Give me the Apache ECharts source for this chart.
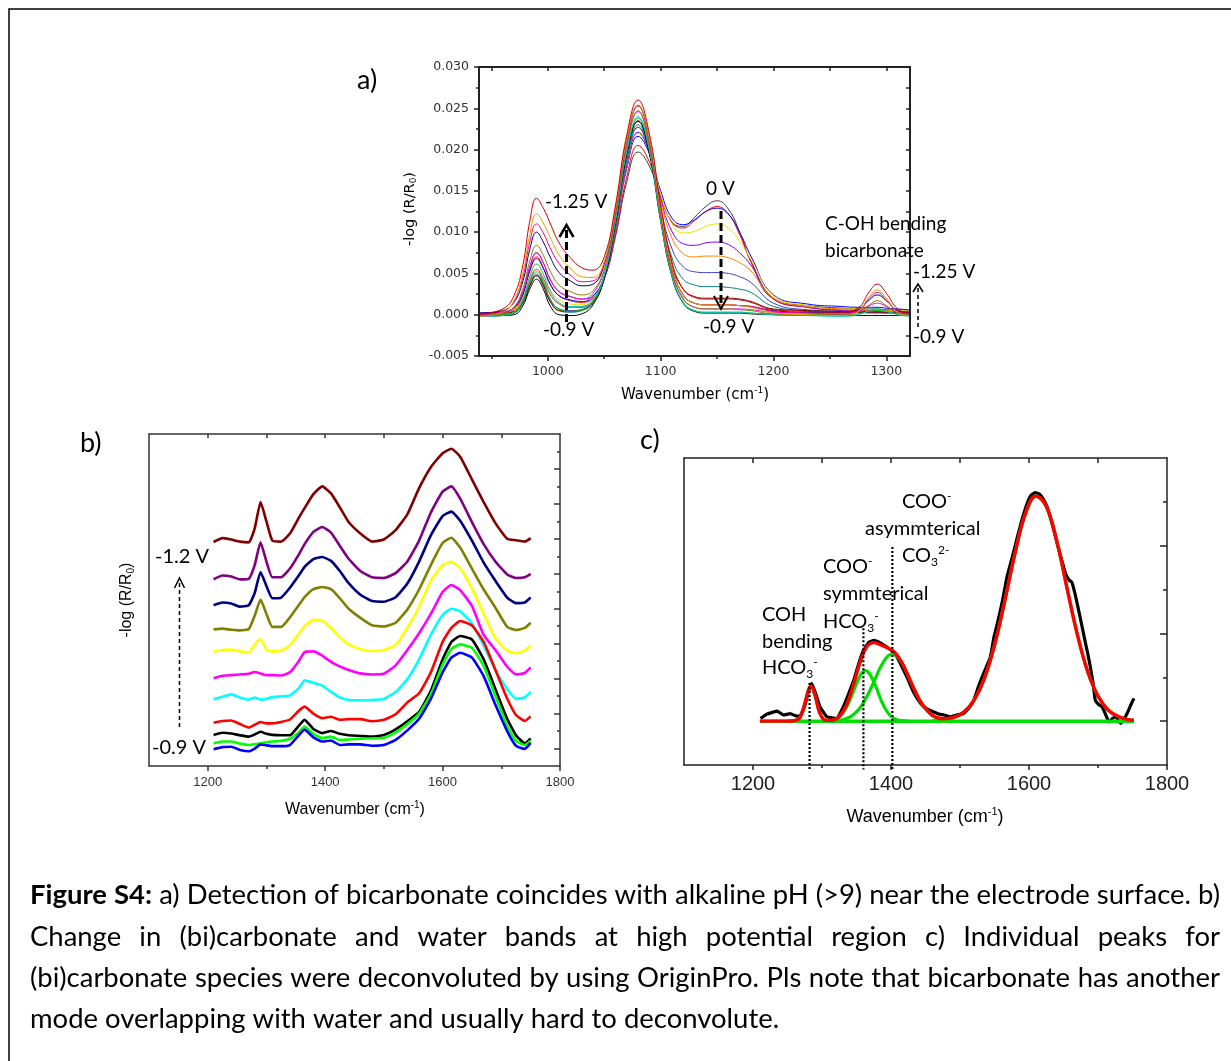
<!DOCTYPE html>
<html><head><meta charset="utf-8">
<script src="https://cdn.jsdelivr.net/npm/echarts@6/dist/echarts.min.js"></script>
<style>html,body{margin:0;padding:0;background:#fff}#c{width:1231px;height:1061px}</style>
</head><body><div id="c"></div>
<script>
// ---------------- Panel a: spectra 0 V ... -0.9 V ... -1.25 V (values in units of 1e-4) -------------
const aWave = [940,960,970,978,984,990,996,1002,1010,1020,1030,1040,1050,1060,1070,1080,1090,1100,1110,1120,1130,1140,1150,1160,1170,1180,1200,1230,1260,1275,1285,1292,1300,1310,1320];
const A_UNIT = 1e-4;
const a00 = [1,3,9,28,58,75,63,43,28,22,19,23,44,95,161,197,180,142,112,107,118,131,138,128,100,64,19,11,8,7,7,7,6,6,5];
const a01 = [-1,1,6,24,53,70,57,38,23,17,15,20,43,97,167,205,185,144,112,105,114,125,131,122,97,65,19,9,6,5,5,5,5,4,3];
const a02 = [2,3,8,25,53,68,56,37,23,18,16,22,47,104,177,216,195,150,117,109,115,125,129,122,100,71,24,13,10,9,9,9,8,7,6];
const a03 = [0,1,5,21,47,62,50,31,18,13,12,19,45,104,180,220,197,146,110,99,101,107,110,105,89,67,23,11,7,7,6,6,5,5,4];
const a04 = [-2,-1,3,17,41,55,44,25,13,9,9,16,43,104,181,221,196,140,101,86,84,87,88,85,75,60,20,9,5,4,4,4,3,2,2];
const a05 = [1,2,5,19,42,55,43,25,13,9,10,17,46,108,186,227,198,137,93,74,70,71,71,69,63,53,20,10,7,6,6,6,5,4,4];
const a06 = [-1,0,2,15,37,49,38,19,7,5,6,14,44,107,187,227,196,129,80,58,52,51,51,50,46,39,14,6,4,3,3,3,2,2,1];
const a07 = [0,0,2,14,35,47,36,17,5,3,5,14,45,110,190,230,196,124,69,43,36,34,34,33,31,27,10,5,3,3,2,2,2,2,2];
const a08 = [2,2,4,15,35,47,35,16,5,4,6,15,47,113,195,235,198,121,60,31,22,20,20,20,19,16,7,5,4,3,3,3,3,3,3];
const a09 = [-1,-1,0,11,31,43,31,11,0,-1,1,12,44,112,195,234,195,113,46,14,4,2,2,2,2,1,0,-1,-1,-1,-1,-1,-1,-1,-1];
const a10 = [0,0,3,16,39,52,40,19,7,4,6,15,47,115,198,238,199,116,48,15,5,3,3,3,3,2,1,0,0,1,4,5,4,1,0];
const a11 = [-2,-1,3,20,46,61,49,29,15,10,10,18,48,115,199,240,200,116,48,15,5,3,3,3,3,2,0,-1,-2,0,5,7,4,0,-2];
const a12 = [1,3,9,28,58,75,63,43,28,22,19,26,54,121,205,246,205,121,52,19,9,7,7,7,7,6,3,2,2,4,11,14,10,3,1];
const a13 = [-1,1,9,32,65,84,72,53,36,28,24,29,55,121,206,247,206,121,52,20,9,7,7,7,6,5,1,0,0,3,12,17,11,2,-1];
const a14 = [2,5,15,41,79,100,88,70,51,41,35,37,61,127,212,253,212,127,58,24,14,12,12,12,11,10,5,3,3,6,18,24,17,5,3];
const a15 = [0,4,16,46,88,110,99,81,62,48,40,41,63,127,212,253,212,126,57,24,14,12,12,12,11,10,4,2,1,5,20,27,18,4,1];
const a16 = [-2,3,17,51,97,122,111,94,72,56,46,45,64,128,213,254,213,127,58,24,14,12,12,12,11,9,2,0,-1,4,22,30,20,3,-1];
const a17 = [1,7,23,61,113,141,129,111,87,69,57,54,70,133,218,260,219,133,64,31,21,19,19,19,18,15,6,4,3,8,28,37,26,7,2];
const aColors = ['#404040','#ff0000','#0000ff','#e6e600','#8000ff','#ff8000','#4040c0','#008080','#800000','#000000','#00c000','#00c8c8','#ff00ff','#808000','#000080','#ff0080','#e0a000','#d00000'];
const aXMajor = [1000,1100,1200,1300];
const aXMinor = [950,1050,1150,1250];
const aXTop = [950,1000,1050,1100,1150,1200,1250,1300];

// ---------------- Panel b: stacked spectra (offset units, arbitrary) ----------------
const bWave = [1210,1225,1240,1255,1270,1280,1290,1300,1310,1325,1340,1355,1365,1380,1395,1410,1425,1440,1460,1480,1500,1520,1540,1560,1580,1600,1615,1630,1650,1670,1690,1710,1725,1740,1750];
const bWine    = [64.1,65.2,64.8,64.2,64.0,68.0,75.5,70.0,64.5,64.2,66.5,71.0,73.8,77.8,80.0,78.0,74.0,69.8,66.5,64.2,64.8,67.5,72.0,79.5,85.5,89.5,90.8,88.5,82.0,75.5,69.5,65.0,64.6,64.2,65.2];
const bPurple  = [53.4,54.5,54.2,53.4,53.6,57.5,64.0,58.5,54.0,54.0,56.5,60.5,63.5,67.0,68.4,66.8,63.0,59.3,55.8,54.0,53.8,55.2,58.5,64.5,72.5,78.5,80.0,76.5,69.8,63.5,58.5,54.8,53.8,54.0,55.0];
const bNavy    = [46.0,46.8,46.5,45.6,46.0,49.5,55.5,51.5,48.0,48.2,51.0,54.5,57.0,59.2,59.8,58.7,55.8,52.3,49.0,47.2,47.0,48.3,52.2,58.5,66.0,71.5,72.8,70.2,64.5,58.2,53.0,48.2,46.6,46.8,48.2];
const bOlive   = [39.1,39.3,39.0,38.8,39.2,43.0,47.6,43.5,39.8,39.8,42.5,46.0,48.3,50.6,51.2,50.6,48.0,45.0,42.4,40.3,39.9,41.0,44.8,50.5,57.5,63.8,65.3,62.5,56.5,50.5,45.3,39.8,38.9,39.5,41.0];
const bYellow  = [32.7,33.2,33.3,32.8,32.5,34.8,36.3,33.3,32.8,33.0,34.5,37.8,40.0,41.8,41.6,39.4,36.8,34.8,33.4,32.9,33.2,34.6,39.5,45.5,53.0,57.5,58.4,56.6,50.8,43.5,36.5,33.0,32.3,33.0,34.5];
const bMagenta = [25.1,25.8,26.0,26.2,26.4,26.9,26.5,26.0,26.0,25.9,26.8,30.0,32.6,32.8,31.6,29.8,28.5,27.5,26.5,26.2,26.4,28.8,33.2,38.0,43.5,49.8,51.8,50.3,45.8,37.5,33.2,28.4,26.2,26.6,28.2];
const bCyan    = [19.1,19.8,20.5,19.6,19.0,19.6,19.0,19.2,19.7,19.9,20.2,22.2,24.5,23.8,23.0,21.2,19.6,18.9,18.8,18.9,19.2,21.2,24.8,30.5,37.5,43.2,45.0,44.3,40.8,34.5,27.5,22.0,19.2,19.6,21.2];
const bRed     = [12.4,12.9,13.0,12.0,11.0,11.8,12.6,12.2,12.2,12.6,13.3,15.8,17.0,15.0,13.7,14.1,13.2,13.4,13.4,12.8,13.2,14.8,18.2,20.8,26.8,35.5,39.5,41.5,40.2,35.5,27.5,19.3,14.6,12.9,14.2];
const bBlack   = [8.9,9.5,9.3,8.8,8.4,9.0,9.8,9.2,8.9,8.8,8.8,11.5,13.2,10.6,9.4,10.0,9.2,8.8,8.6,8.4,8.9,10.5,12.8,15.5,21.5,30.5,35.5,37.2,36.2,30.5,22.0,13.5,8.8,6.5,7.9];
const bGreen   = [6.5,7.0,7.0,6.4,6.0,6.2,6.5,6.8,7.0,7.2,7.8,9.6,11.3,9.2,8.0,8.4,7.4,7.6,7.8,7.9,8.1,9.6,12.0,15.0,20.5,29.0,33.5,34.8,33.8,28.6,20.0,11.5,7.2,6.0,7.2];
const bBlue    = [4.8,5.4,5.5,4.6,4.2,5.0,6.2,5.9,5.7,5.7,6.0,8.8,10.4,8.2,7.0,7.3,6.0,6.2,6.2,5.8,6.0,7.5,10.2,13.5,19.2,26.8,31.0,32.4,31.0,25.7,17.5,10.0,5.8,4.9,6.6];
const bColors  = ['#800000','#800080','#000080','#808000','#ffff00','#ff00ff','#00ffff','#ff0000','#000000','#00ff00','#0000ff'];
const bXLabels = [1200,1400,1600,1800];
const bXMinor = [1300,1500,1700];
const bXTop = [1200,1300,1400,1500,1600,1700];
const bYMajor = [5,15,25,35,45,55,65,75,85];
const bYMinor = [10,20,30,40,50,60,70,80,90];

// ---------------- Panel c: deconvolution ----------------
const cExpWave = [1211,1220,1228,1235,1244,1254,1262,1268,1275,1280,1285,1291,1297,1307,1321,1331,1338,1346,1353,1360,1368,1375,1385,1394,1400,1406,1414,1423,1433,1443,1452,1462,1470,1477,1486,1495,1505,1513,1520,1527,1534,1544,1549,1554,1561,1568,1576,1583,1590,1597,1603,1609,1615,1621,1626,1631,1636,1641,1647,1653,1658,1662,1666,1670,1675,1680,1685,1689,1693,1696,1701,1706,1711,1716,1721,1726,1730,1733,1738,1742,1747,1752];
const cExp = [0.06,0.16,0.20,0.23,0.14,0.17,0.12,0.11,0.35,0.65,0.86,0.62,0.33,0.10,0.06,0.33,0.60,0.93,1.30,1.61,1.80,1.84,1.78,1.69,1.62,1.54,1.30,1.01,0.65,0.40,0.28,0.21,0.16,0.14,0.10,0.14,0.17,0.30,0.48,0.80,1.08,1.46,1.90,2.22,2.70,3.28,3.75,4.19,4.60,4.95,5.15,5.21,5.18,5.06,4.90,4.64,4.35,4.04,3.70,3.36,3.22,3.17,2.95,2.67,2.30,1.92,1.55,1.23,0.85,0.48,0.38,0.33,0.15,-0.02,0.06,0.10,0.00,-0.05,0.05,0.17,0.35,0.52];
const cFitWave = [1210,1230,1250,1260,1268,1275,1280,1284,1290,1297,1305,1315,1325,1335,1345,1355,1365,1375,1385,1395,1405,1415,1425,1435,1445,1460,1475,1490,1505,1520,1535,1550,1565,1580,1595,1610,1625,1640,1655,1670,1685,1700,1715,1730,1745,1752];
const cFit = [0,0,0,0.01,0.08,0.39,0.69,0.80,0.58,0.18,0.02,0.02,0.11,0.35,0.80,1.33,1.70,1.79,1.74,1.67,1.57,1.36,1.03,0.68,0.39,0.13,0.055,0.08,0.20,0.47,0.96,1.73,2.75,3.84,4.74,5.13,4.90,4.12,3.04,1.98,1.13,0.57,0.25,0.10,0.03,0.02];
const cG1Wave = [1250,1260,1268,1275,1280,1284,1290,1297,1305,1315];
const cG1 = [0,0.01,0.08,0.39,0.69,0.80,0.58,0.18,0.02,0];
const cG2Wave = [1300,1315,1325,1335,1345,1355,1363,1375,1385,1395,1405,1415,1425];
const cG2 = [0,0.02,0.09,0.30,0.66,1.03,1.15,0.90,0.50,0.20,0.05,0.01,0];
const cG3Wave = [1320,1330,1340,1345,1355,1365,1375,1385,1395,1402,1405,1415,1425,1435,1445,1460,1475,1490];
const cG3 = [0.01,0.03,0.09,0.14,0.30,0.56,0.89,1.24,1.48,1.53,1.52,1.35,1.03,0.68,0.39,0.13,0.03,0];
const cG4Wave = [1460,1475,1490,1505,1520,1535,1550,1565,1580,1595,1610,1625,1640,1655,1670,1685,1700,1715,1730,1745,1752];
const cG4 = [0.01,0.03,0.08,0.20,0.47,0.96,1.73,2.75,3.84,4.74,5.13,4.90,4.12,3.04,1.98,1.13,0.57,0.25,0.10,0.03,0.02];
const cBaseWave = [1210,1752];
const cBase = [0,0];
const cXLabels = [1200,1400,1600,1800];
const cXMinor = [1300,1500,1700];
const cXTop = [1200,1300,1400,1500,1600,1700];
const cYMajor = [0,2,4];
const cYMinor = [1,3,5];
const cDotX = [1282,1360,1402];
const cDotTop = [0.87,2.12,3.97];
const cDotBottom = -1.1;

// ---------------- Caption ----------------
const capLines = [
  'Figure S4: a) Detection of bicarbonate coincides with alkaline pH (>9) near the electrode surface. b)',
  'Change in (bi)carbonate and water bands at high potential region c) Individual peaks for',
  '(bi)carbonate species were deconvoluted by using OriginPro. Pls note that bicarbonate has another',
  'mode overlapping with water and usually hard to deconvolute.'
];

// =====================================================================
const chart = echarts.init(document.getElementById('c'), null, {renderer:'canvas', width:1231, height:1061});
const pairs = (xs, ys, k) => xs.map((x, i) => [x, ys[i] * (k || 1)]);
const plain = v => String(v);

const lineA = {show:true, onZero:false, lineStyle:{color:'#222', width:2}};
const lineB = {show:true, onZero:false, lineStyle:{color:'#333', width:1.5}};
const lineC = {show:true, onZero:false, lineStyle:{color:'#222', width:1.5}};
const noLine = {show:false, onZero:false};
const tk = (len, inside, vals, col) => ({show:true, inside:inside, length:len, customValues:vals, lineStyle:{color:col||'#222', width:1.5}});
const none = {show:false};
const ns = {show:false};

const xAxis = [
  // a
  {gridIndex:0, type:'value', min:939, max:1321, position:'bottom', axisLine:lineA, axisTick:tk(5,false,aXMajor),
   axisLabel:{show:true, customValues:aXMajor, formatter:plain, margin:9, fontFamily:'DejaVu Sans', fontSize:12.5, color:'#333'}, splitLine:ns},
  {gridIndex:0, type:'value', min:939, max:1321, position:'bottom', axisLine:noLine, axisTick:tk(3,false,aXMinor), axisLabel:none, splitLine:ns},
  {gridIndex:0, type:'value', min:939, max:1321, position:'top', axisLine:lineA, axisTick:tk(4,true,aXTop), axisLabel:none, splitLine:ns},
  // b
  {gridIndex:1, type:'value', min:1100, max:1800, position:'bottom', axisLine:lineB, axisTick:tk(5,false,bXLabels,'#333'),
   axisLabel:{show:true, customValues:bXLabels, formatter:plain, margin:10, fontFamily:'Liberation Sans', fontSize:13, color:'#333'}, splitLine:ns},
  {gridIndex:1, type:'value', min:1100, max:1800, position:'bottom', axisLine:noLine, axisTick:tk(3,false,bXMinor,'#333'), axisLabel:none, splitLine:ns},
  {gridIndex:1, type:'value', min:1100, max:1800, position:'top', axisLine:lineB, axisTick:tk(4,true,bXTop,'#333'), axisLabel:none, splitLine:ns},
  // c
  {gridIndex:2, type:'value', min:1100, max:1800, position:'bottom', axisLine:lineC, axisTick:tk(5,false,cXLabels),
   axisLabel:{show:true, customValues:cXLabels, formatter:plain, margin:9, fontFamily:'Liberation Sans', fontSize:20, color:'#222'}, splitLine:ns},
  {gridIndex:2, type:'value', min:1100, max:1800, position:'bottom', axisLine:noLine, axisTick:tk(3,false,cXMinor), axisLabel:none, splitLine:ns},
  {gridIndex:2, type:'value', min:1100, max:1800, position:'top', axisLine:lineC, axisTick:tk(5,true,cXTop), axisLabel:none, splitLine:ns}
];
const yAxis = [
  // a
  {gridIndex:0, type:'value', min:-0.005, max:0.03, interval:0.005, position:'left', axisLine:lineA,
   axisTick:{show:true, inside:false, length:5, lineStyle:{color:'#222', width:1.5}},
   minorTick:{show:true, splitNumber:2, length:3, lineStyle:{color:'#222', width:1.5}},
   axisLabel:{show:true, margin:10, fontFamily:'DejaVu Sans', fontSize:12.5, color:'#333', formatter:v => v.toFixed(3)}, splitLine:ns},
  {gridIndex:0, type:'value', min:-0.005, max:0.03, interval:0.0025, position:'right', axisLine:lineA,
   axisTick:{show:true, inside:true, length:4, lineStyle:{color:'#222', width:1.5}}, axisLabel:none, splitLine:ns},
  // b
  {gridIndex:1, type:'value', min:0, max:95, position:'left', axisLine:lineB, axisTick:none, axisLabel:none, splitLine:ns},
  {gridIndex:1, type:'value', min:0, max:95, position:'right', axisLine:lineB, axisTick:tk(6,true,bYMajor,'#333'), axisLabel:none, splitLine:ns},
  {gridIndex:1, type:'value', min:0, max:95, position:'right', axisLine:noLine, axisTick:tk(3,true,bYMinor,'#333'), axisLabel:none, splitLine:ns},
  // c
  {gridIndex:2, type:'value', min:-1, max:6, position:'left', axisLine:lineC, axisTick:none, axisLabel:none, splitLine:ns},
  {gridIndex:2, type:'value', min:-1, max:6, position:'right', axisLine:lineC, axisTick:tk(7,true,cYMajor), axisLabel:none, splitLine:ns},
  {gridIndex:2, type:'value', min:-1, max:6, position:'right', axisLine:noLine, axisTick:tk(4,true,cYMinor), axisLabel:none, splitLine:ns}
];

const series = [];
const ln = (xi, yi, data, color, width, smooth) => ({type:'line', xAxisIndex:xi, yAxisIndex:yi, data:data, symbol:'none', showSymbol:false,
  smooth:smooth, silent:true, animation:false, lineStyle:{color:color, width:width}, emphasis:{disabled:true}});
[a00,a01,a02,a03,a04,a05,a06,a07,a08,a09,a10,a11,a12,a13,a14,a15,a16,a17].forEach((v, i) =>
  series.push(ln(0, 0, pairs(aWave, v, A_UNIT), aColors[i], 1, 0.45)));
[bWine,bPurple,bNavy,bOlive,bYellow,bMagenta,bCyan,bRed,bBlack,bGreen,bBlue].forEach((v, i) =>
  series.push(ln(3, 2, pairs(bWave, v), bColors[i], 2.6, 0.15)));
series.push(ln(6, 5, pairs(cExpWave, cExp), '#000000', 3.2, 0.1));
series.push(ln(6, 5, pairs(cBaseWave, cBase), '#00e000', 3.5, false));
[[cG1Wave,cG1],[cG2Wave,cG2],[cG3Wave,cG3],[cG4Wave,cG4]].forEach(g => series.push(ln(6, 5, pairs(g[0], g[1]), '#00e000', 3.2, 0.4)));
series.push(ln(6, 5, pairs(cFitWave, cFit), '#ff0000', 3.4, 0.4));

chart.setOption({
  animation:false, backgroundColor:'#ffffff',
  grid:[
    {left:479, top:67, width:431, height:289},
    {left:149, top:434, width:411, height:332},
    {left:684, top:458, width:483, height:307}
  ],
  xAxis:xAxis, yAxis:yAxis, series:series
});

// ---------------- annotations ----------------
const G = [];
const txt = (x, y, text, size, family, align) => G.push({type:'text', x:x, y:y, z:100,
  style:{text:text, fill:'#000', fontSize:size, fontFamily:family || 'Lato', align:align || 'left', verticalAlign:'middle'}});
const rich = (x, y, text, size, family, align, rot) => {
  const f = family || 'Lato', s2 = Math.round(size * 0.62);
  G.push({type:'text', x:x, y:y, z:100, rotation:rot || 0, style:{text:text, fill:'#000', fontSize:size, fontFamily:f, align:align || 'left', verticalAlign:'middle',
    rich:{n:{fontSize:size, fontFamily:f, fill:'#000', lineHeight:Math.round(size*1.2)},
          p:{fontSize:s2, fontFamily:f, fill:'#000', lineHeight:s2, verticalAlign:'top'},
          b:{fontSize:s2, fontFamily:f, fill:'#000', lineHeight:s2, verticalAlign:'bottom'}}}});
};
const seg = (x1, y1, x2, y2, w, dash) => G.push({type:'line', z:100, shape:{x1:x1, y1:y1, x2:x2, y2:y2}, style:{stroke:'#000', lineWidth:w, lineDash:dash || null}});
const head = (pts, w) => G.push({type:'polyline', z:100, shape:{points:pts}, style:{stroke:'#000', lineWidth:w, fill:null}});

// outer frame
G.push({type:'rect', z:1, shape:{x:9, y:9, width:1300, height:1100}, style:{fill:null, stroke:'#000', lineWidth:1.5}});
// panel letters
txt(357, 80, 'a)', 27); txt(80, 443, 'b)', 27); txt(640, 440, 'c)', 27);

// panel a
txt(545, 202, '-1.25 V', 19); txt(706, 189, '0 V', 19);
txt(825, 224, 'C-OH bending', 19); txt(825, 251, 'bicarbonate', 19);
txt(913, 272, '-1.25 V', 19); txt(913, 337, '-0.9 V', 19);
txt(703, 327, '-0.9 V', 19); txt(543, 330, '-0.9 V', 19);
seg(566.5, 322, 566.5, 228, 3, [8,4]); head([[559.5,237],[566.5,225],[573.5,237]], 2.5);
seg(721, 211, 721, 305, 3, [8,4]); head([[714,296],[721,309],[728,296]], 2);
seg(918, 327, 918, 287, 1.5, [4,3]); head([[913,292],[918,284],[923,292]], 1.5);
rich(695, 395, '{n|Wavenumber (cm}{p|-1}{n|)}', 15, 'DejaVu Sans', 'center');
rich(410, 209, '{n|-log (R/R}{b|0}{n|)}', 14.5, 'DejaVu Sans', 'center', Math.PI/2);

// panel b
txt(155, 557, '-1.2 V', 20); txt(152, 748, '-0.9 V', 20);
seg(179.5, 727, 179.5, 582, 1.5, [4,3]); head([[174.5,588],[179.5,578],[184.5,588]], 1.5);
rich(355, 810, '{n|Wavenumber (cm}{p|-1}{n|)}', 16, 'Liberation Sans', 'center');
rich(127, 600, '{n|-log (R/R}{b|0}{n|)}', 16, 'Liberation Sans', 'center', Math.PI/2);

// panel c
rich(902, 502, '{n|COO}{p|-}', 20); txt(865, 529, 'asymmterical', 20); rich(902, 556, '{n|CO}{b|3}{p|2-}', 20);
rich(823, 567, '{n|COO}{p|-}', 20); txt(823, 594, 'symmterical', 20); rich(823, 622, '{n|HCO}{b|3}{p|-}', 20);
txt(762, 615, 'COH', 20); txt(762, 642, 'bending', 20); rich(762, 668, '{n|HCO}{b|3}{p|-}', 20);
rich(925, 817, '{n|Wavenumber (cm}{p|-1}{n|)}', 18, 'Liberation Sans', 'center');
cDotX.forEach((x, i) => {
  const p1 = chart.convertToPixel({xAxisIndex:6, yAxisIndex:5}, [x, cDotTop[i]]);
  const p2 = chart.convertToPixel({xAxisIndex:6, yAxisIndex:5}, [x, cDotBottom]);
  seg(p1[0], p1[1], p2[0], p2[1], 2.2, [2,2]);
});

// caption (justified)
(function () {
  const ctx = document.createElement('canvas').getContext('2d');
  const fam = 'Lato';
  const meas = (t, bold, s) => { ctx.font = (bold ? 'bold ' : '') + s + 'px ' + fam; return ctx.measureText(t).width; };
  const left = 30, right = 1220, W = right - left;
  const ys = [895, 937, 978, 1019];
  const words = capLines.map(l => l.split(' '));
  const isBold = (li, wi) => li === 0 && wi < 2;
  const natural = (li, s) => words[li].reduce((a, w, wi) => a + meas(w, isBold(li, wi), s), 0) + (words[li].length - 1) * meas(' ', false, s);
  const s = 22 * W / natural(0, 22);
  words.forEach((ws, li) => {
    const widths = ws.map((w, wi) => meas(w, isBold(li, wi), s));
    const sum = widths.reduce((a, b) => a + b, 0);
    const gap = li < 3 ? (W - sum) / (ws.length - 1) : meas(' ', false, s);
    let x = left;
    ws.forEach((w, wi) => {
      G.push({type:'text', x:x, y:ys[li], z:100, style:{text:w, fill:'#000', fontSize:s, fontFamily:fam,
        fontWeight:isBold(li, wi) ? 'bold' : 'normal', align:'left', verticalAlign:'middle'}});
      x += widths[wi] + gap;
    });
  });
})();

chart.setOption({graphic:{elements:G}});
</script></body></html>
